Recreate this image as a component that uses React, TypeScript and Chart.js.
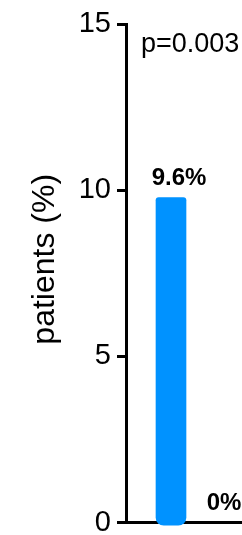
import React, { useEffect, useRef } from 'react';
import { Chart, registerables } from 'chart.js';
Chart.register(...registerables);

const groups = ['group 1', 'group 2'];
const values = [9.78, 0];
const valueLabels = ['9.6%', '0%'];
const yTicks = [0, 5, 10, 15];
const pValue = 'p=0.003';
const yTitle = 'patients (%)';

const FONT = '"Liberation Sans", Arial, Helvetica, sans-serif';

export default function App() {
  const ref = useRef<HTMLCanvasElement>(null);
  useEffect(() => {
    document.body.style.margin = '0';
    const labelPlugin = {
      id: 'valueLabels',
      afterDatasetsDraw(chart: any) {
        const ctx = chart.ctx;
        const xs = chart.scales.x;
        const ys = chart.scales.y;
        ctx.save();
        ctx.fillStyle = '#000';
        ctx.font = `bold 24px ${FONT}`;
        ctx.textAlign = 'center';
        ctx.textBaseline = 'alphabetic';
        groups.forEach((_, i) => {
          const x = xs.getPixelForValue(i + 1);
          ctx.fillText(valueLabels[i], x + 8, ys.getPixelForValue(values[i]) - 13);
        });
        ctx.font = `27px ${FONT}`;
        ctx.textAlign = 'left';
        ctx.fillText(pValue, chart.chartArea.left + 15, chart.chartArea.top + 28);
        // y axis title
        ctx.font = `32px ${FONT}`;
        ctx.textAlign = 'center';
        ctx.textBaseline = 'middle';
        ctx.translate(45, (chart.chartArea.top + chart.chartArea.bottom) / 2 - 14);
        ctx.rotate(-Math.PI / 2);
        ctx.fillText(yTitle, 0, 0);
        ctx.restore();
      },
    };
    const labels = ['', ...groups, ''];
    const data = [null, ...values.map((v) => (v > 0 ? [-0.08, v] : null)), null];
    const chart = new Chart(ref.current!, {
      type: 'bar',
      data: {
        labels,
        datasets: [
          {
            data: data as any,
            backgroundColor: '#0092ff',
            borderWidth: 0,
            borderSkipped: false,
            borderRadius: { topLeft: 3, topRight: 3, bottomLeft: 8, bottomRight: 8 },
            barThickness: 30,
            clip: false as any,
          },
        ],
      },
      options: {
        animation: false,
        responsive: true,
        maintainAspectRatio: false,
        layout: { padding: { top: 24, left: 0, right: 0, bottom: 0 } },
        plugins: { legend: { display: false }, tooltip: { enabled: false } },
        scales: {
          x: {
            type: 'category',
            offset: false,
            ticks: { display: false },
            grid: { display: false, offset: false },
            border: { display: true, width: 3, color: '#000' },
            afterFit: (s: any) => {
              s.height = 13;
            },
          },
          y: {
            min: 0,
            max: 15,
            afterBuildTicks: (s: any) => {
              s.ticks = yTicks.map((v) => ({ value: v }));
            },
            ticks: {
              color: '#000',
              padding: 6,
              font: { family: FONT, size: 29 },
            },
            grid: {
              drawOnChartArea: false,
              drawTicks: true,
              tickLength: 9,
              tickWidth: 3,
              tickColor: '#000',
              color: '#000',
              lineWidth: 3,
            },
            border: { display: true, width: 3, color: '#000' },
            afterFit: (s: any) => {
              s.width = 126;
            },
          },
        },
      },
      plugins: [labelPlugin],
    });
    return () => chart.destroy();
  }, []);
  return (
    <div style={{ width: '242px', height: '535px', overflow: 'hidden', position: 'relative' }}>
      <div style={{ width: '261px', height: '546px', position: 'relative' }}>
        <canvas ref={ref} />
      </div>
    </div>
  );
}
